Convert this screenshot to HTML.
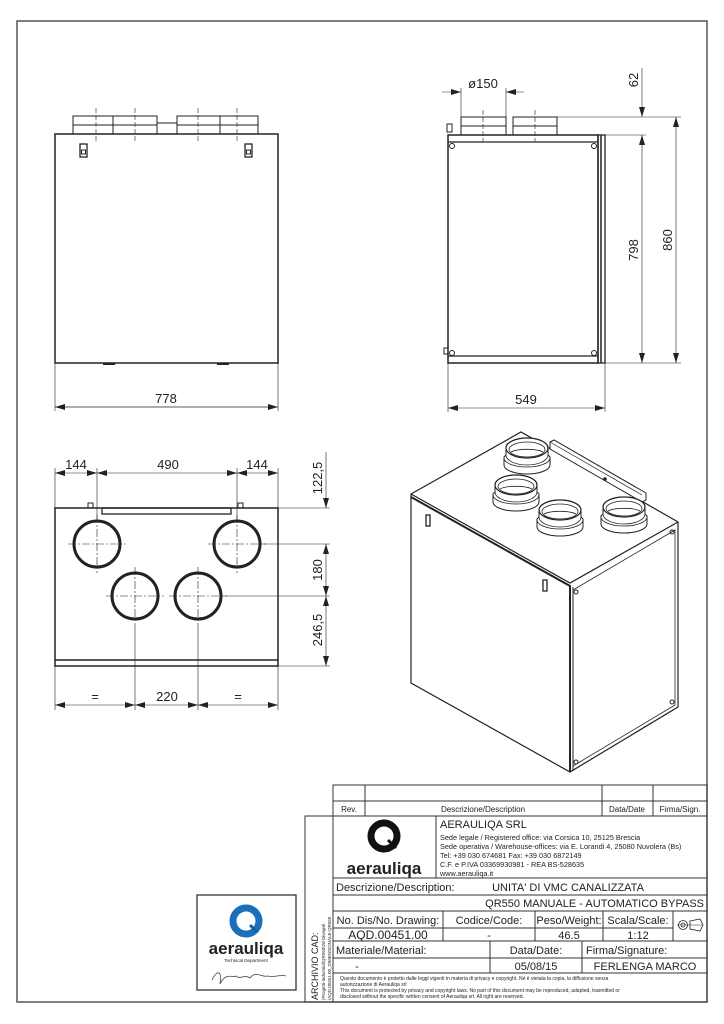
<!DOCTYPE html>
<html><head><meta charset="utf-8"><style>
html,body{margin:0;padding:0;background:#fff}
svg{display:block}
text{font-family:"Liberation Sans",Arial,sans-serif;fill:#222}
</style></head><body>
<svg width="724" height="1024" viewBox="0 0 724 1024" xmlns="http://www.w3.org/2000/svg">
<defs>
<marker id="a" viewBox="0 0 10 6" refX="10" refY="3" markerWidth="10" markerHeight="6" orient="auto-start-reverse" markerUnits="userSpaceOnUse"><path d="M0,0 L10,3 L0,6 z" fill="#222"/></marker>
<g id="sp">
<path d="M-23,9 L-23,17 A23,9 0 0 0 23,17 L23,9 L21,7 L21,0 A21,10 0 0 0 -21,0 L-21,7 Z" fill="#fff" stroke="#222" stroke-width="1"/>
<ellipse cx="0" cy="0" rx="21" ry="10" fill="#fff" stroke="#222" stroke-width="1.2"/>
<ellipse cx="0" cy="1.5" rx="18" ry="7.5" fill="none" stroke="#222" stroke-width="0.8"/>
<path d="M-21,7 A21,10 0 0 0 21,7 M-23,10 A23,9 0 0 0 23,10" fill="none" stroke="#222" stroke-width="0.8"/>
<path d="M-16,4 A18,5 0 0 1 16,4" fill="none" stroke="#222" stroke-width="0.8"/>
</g>
</defs>

<!-- page frame -->
<rect x="17" y="21" width="690" height="981" fill="none" stroke="#555" stroke-width="1.5"/>

<g stroke="#222" fill="none" stroke-width="1">
<!-- FRONT VIEW -->
<rect x="55" y="134" width="223" height="229" stroke-width="1.5"/>
<rect x="73" y="116" width="40" height="18"/><line x1="73" y1="125" x2="113" y2="125"/>
<rect x="113" y="116" width="44" height="18"/><line x1="113" y1="125" x2="157" y2="125"/>
<rect x="157" y="123" width="20" height="11"/>
<rect x="177" y="116" width="43" height="18"/><line x1="177" y1="125" x2="220" y2="125"/>
<rect x="220" y="116" width="38" height="18"/><line x1="220" y1="125" x2="258" y2="125"/>
<g stroke-dasharray="5,2" stroke-width="0.6"><line x1="96" y1="108" x2="96" y2="143"/><line x1="135" y1="108" x2="135" y2="143"/><line x1="198" y1="108" x2="198" y2="143"/><line x1="237" y1="108" x2="237" y2="143"/></g>
<rect x="80" y="144" width="7" height="13" stroke-width="1.3"/><rect x="81.5" y="150" width="4" height="4"/>
<rect x="245" y="144" width="7" height="13" stroke-width="1.3"/><rect x="246.5" y="150" width="4" height="4"/>
<line x1="103" y1="364" x2="115" y2="364" stroke-width="2"/><line x1="217" y1="364" x2="229" y2="364" stroke-width="2"/>
<line x1="55" y1="363" x2="55" y2="411" stroke-width="0.6"/><line x1="278" y1="363" x2="278" y2="411" stroke-width="0.6"/>
<line x1="55" y1="407" x2="278" y2="407" stroke-width="0.7" marker-start="url(#a)" marker-end="url(#a)"/>

<!-- SIDE VIEW -->
<rect x="448" y="135" width="150" height="228" stroke-width="1.5"/>
<line x1="448" y1="142" x2="598" y2="142" stroke-width="1.3"/>
<line x1="448" y1="356" x2="598" y2="356" stroke-width="1.3"/>
<rect x="598" y="135" width="7" height="228" stroke-width="1.3"/>
<line x1="601" y1="135" x2="601" y2="363" stroke-width="1.5"/>
<circle cx="452" cy="146" r="2.5"/><circle cx="594" cy="146" r="2.5"/><circle cx="452" cy="353" r="2.5"/><circle cx="594" cy="353" r="2.5"/>
<rect x="447" y="124" width="5" height="8"/>
<rect x="444" y="348" width="4" height="6"/>
<rect x="461" y="117" width="45" height="18"/><line x1="461" y1="126" x2="506" y2="126"/>
<rect x="513" y="117" width="44" height="18"/><line x1="513" y1="126" x2="557" y2="126"/>
<g stroke-dasharray="5,2" stroke-width="0.6"><line x1="483" y1="110" x2="483" y2="142"/><line x1="535" y1="110" x2="535" y2="142"/></g>
<g stroke-width="0.6">
<line x1="461" y1="88" x2="461" y2="117"/><line x1="506" y1="88" x2="506" y2="117"/>
<line x1="442" y1="92" x2="461" y2="92" marker-end="url(#a)"/><line x1="524" y1="92" x2="506" y2="92" marker-end="url(#a)"/>
<line x1="557" y1="117" x2="681" y2="117"/><line x1="605" y1="135" x2="646" y2="135"/><line x1="605" y1="363" x2="681" y2="363"/>
<line x1="642" y1="68" x2="642" y2="117" marker-end="url(#a)"/>
<line x1="642" y1="135" x2="642" y2="363" marker-start="url(#a)" marker-end="url(#a)"/>
<line x1="676" y1="117" x2="676" y2="363" marker-start="url(#a)" marker-end="url(#a)"/>
<line x1="448" y1="363" x2="448" y2="412"/><line x1="605" y1="363" x2="605" y2="412"/>
<line x1="448" y1="408" x2="605" y2="408" marker-start="url(#a)" marker-end="url(#a)"/>
</g>

<!-- PLAN VIEW -->
<rect x="55" y="508" width="223" height="158" stroke-width="1.5"/>
<line x1="55" y1="660" x2="278" y2="660" stroke-width="1.5"/>
<rect x="102" y="508" width="129" height="6" stroke-width="1.3"/>
<rect x="88" y="503" width="5" height="5"/><rect x="238" y="503" width="5" height="5"/>
<g stroke-width="3"><circle cx="97" cy="544" r="23"/><circle cx="237" cy="544" r="23"/><circle cx="135" cy="596" r="23"/><circle cx="198" cy="596" r="23"/></g>
<g stroke-dasharray="8,2,2,2" stroke-width="0.6">
<line x1="68" y1="544" x2="126" y2="544"/><line x1="97" y1="515" x2="97" y2="573"/>
<line x1="208" y1="544" x2="266" y2="544"/><line x1="237" y1="515" x2="237" y2="573"/>
<line x1="106" y1="596" x2="164" y2="596"/><line x1="135" y1="567" x2="135" y2="625"/>
<line x1="169" y1="596" x2="227" y2="596"/><line x1="198" y1="567" x2="198" y2="625"/>
</g>
<g stroke-width="0.6">
<line x1="55" y1="468" x2="55" y2="508"/><line x1="278" y1="468" x2="278" y2="508"/>
<line x1="97" y1="468" x2="97" y2="520"/><line x1="237" y1="468" x2="237" y2="520"/>
<line x1="55" y1="473" x2="97" y2="473" marker-start="url(#a)" marker-end="url(#a)"/>
<line x1="97" y1="473" x2="237" y2="473" marker-start="url(#a)" marker-end="url(#a)"/>
<line x1="237" y1="473" x2="278" y2="473" marker-start="url(#a)" marker-end="url(#a)"/>
<line x1="278" y1="508" x2="330" y2="508"/><line x1="260" y1="544" x2="330" y2="544"/><line x1="222" y1="596" x2="330" y2="596"/><line x1="278" y1="666" x2="330" y2="666"/>
<line x1="326" y1="452" x2="326" y2="508" marker-end="url(#a)"/>
<line x1="326" y1="544" x2="326" y2="596" marker-start="url(#a)" marker-end="url(#a)"/>
<line x1="326" y1="596" x2="326" y2="666" marker-start="url(#a)" marker-end="url(#a)"/>
<line x1="55" y1="666" x2="55" y2="710"/><line x1="278" y1="666" x2="278" y2="710"/>
<line x1="135" y1="625" x2="135" y2="710"/><line x1="198" y1="625" x2="198" y2="710"/>
<line x1="55" y1="705" x2="135" y2="705" marker-start="url(#a)" marker-end="url(#a)"/>
<line x1="135" y1="705" x2="198" y2="705" marker-start="url(#a)" marker-end="url(#a)"/>
<line x1="198" y1="705" x2="278" y2="705" marker-start="url(#a)" marker-end="url(#a)"/>
</g>

<!-- ISO VIEW -->
<path d="M411,494 L521,432 L678,522 L678,707 L570,772 L411,683 Z" fill="#fff" stroke-width="1.2"/>
<path d="M411,494 L570,583 L678,522" stroke-width="1.2"/>
<path d="M411,497 L570,586 L570,772" stroke-width="2"/>
<path d="M573,587 L573,770" stroke-width="1"/>
<path d="M573,590 L675,530 L675,705 L573,766" stroke-width="0.8"/>
<circle cx="576" cy="592" r="2"/><circle cx="672" cy="532" r="2"/><circle cx="672" cy="702" r="2"/><circle cx="576" cy="762" r="2"/>
<rect x="426" y="515" width="4" height="11" stroke-width="1.3"/>
<rect x="543" y="580" width="4" height="11" stroke-width="1.3"/>
<path d="M550,442 L554,440 L646,493 L646,500 L642,502 L550,449 Z" fill="#fff" stroke-width="1"/>
<line x1="550" y1="442" x2="642" y2="495" stroke-width="0.7"/>
<circle cx="605" cy="479" r="1.3" fill="#222"/>
<use href="#sp" x="527" y="448"/>
<use href="#sp" x="516" y="485"/>
<use href="#sp" x="560" y="510"/>
<use href="#sp" x="624" y="507"/>

<!-- TITLE BLOCK -->
<g stroke="#333" stroke-width="1">
<rect x="333" y="785" width="374" height="217"/>
<line x1="333" y1="801" x2="707" y2="801"/>
<line x1="333" y1="816" x2="707" y2="816"/>
<line x1="365" y1="785" x2="365" y2="816"/>
<line x1="602" y1="785" x2="602" y2="816"/>
<line x1="653" y1="785" x2="653" y2="816"/>
<line x1="436" y1="816" x2="436" y2="878"/>
<line x1="333" y1="878" x2="707" y2="878"/>
<line x1="333" y1="895" x2="707" y2="895"/>
<line x1="333" y1="911" x2="707" y2="911"/>
<line x1="333" y1="941" x2="707" y2="941"/>
<line x1="333" y1="958" x2="707" y2="958"/>
<line x1="333" y1="973" x2="707" y2="973"/>
<line x1="443" y1="911" x2="443" y2="941"/>
<line x1="535" y1="911" x2="535" y2="941"/>
<line x1="603" y1="911" x2="603" y2="941"/>
<line x1="673" y1="911" x2="673" y2="941"/>
<line x1="333" y1="928" x2="673" y2="928"/>
<line x1="490" y1="941" x2="490" y2="973"/>
<line x1="582" y1="941" x2="582" y2="973"/>
<rect x="305" y="816" width="28" height="186"/>
<rect x="197" y="895" width="99" height="95" stroke-width="1.3"/>
</g>
<!-- projection symbol -->
<circle cx="683" cy="925" r="4.5" stroke-width="0.8"/><circle cx="683" cy="925" r="2" stroke-width="0.8"/>
<line x1="677" y1="925" x2="702" y2="925" stroke-width="0.5"/>
<path d="M690,921 L700,919 L703,925 L700,931 L690,929 Z" stroke-width="0.8"/>
</g>

<!-- dimension text -->
<text x="166" y="403" font-size="13" text-anchor="middle">778</text>
<text x="526" y="404" font-size="13" text-anchor="middle">549</text>
<text x="483" y="88" font-size="13" text-anchor="middle">ø150</text>
<text font-size="13" text-anchor="middle" transform="translate(638,80) rotate(-90)">62</text>
<text font-size="13" text-anchor="middle" transform="translate(638,250) rotate(-90)">798</text>
<text font-size="13" text-anchor="middle" transform="translate(672,240) rotate(-90)">860</text>
<text x="76" y="469" font-size="13" text-anchor="middle">144</text>
<text x="168" y="469" font-size="13" text-anchor="middle">490</text>
<text x="257" y="469" font-size="13" text-anchor="middle">144</text>
<text font-size="13" text-anchor="middle" transform="translate(322,478) rotate(-90)">122,5</text>
<text font-size="13" text-anchor="middle" transform="translate(322,570) rotate(-90)">180</text>
<text font-size="13" text-anchor="middle" transform="translate(322,630) rotate(-90)">246,5</text>
<text x="95" y="701" font-size="13" text-anchor="middle">=</text>
<text x="167" y="701" font-size="13" text-anchor="middle">220</text>
<text x="238" y="701" font-size="13" text-anchor="middle">=</text>

<!-- title block text -->
<text x="349" y="812" font-size="8" text-anchor="middle">Rev.</text>
<text x="483" y="812" font-size="8" text-anchor="middle">Descrizione/Description</text>
<text x="627" y="812" font-size="8" text-anchor="middle">Data/Date</text>
<text x="680" y="812" font-size="8" text-anchor="middle">Firma/Sign.</text>
<circle cx="384" cy="836" r="13" fill="none" stroke="#111" stroke-width="7"/>
<line x1="388" y1="840" x2="396" y2="848" stroke="#111" stroke-width="3"/>
<text x="384" y="874" font-size="17" font-weight="bold" text-anchor="middle" fill="#111">aerauliqa</text>
<text x="440" y="828" font-size="11">AERAULIQA SRL</text>
<text x="440" y="840" font-size="7.3">Sede legale / Registered office: via Corsica 10, 25125 Brescia</text>
<text x="440" y="849" font-size="7.3">Sede operativa / Warehouse-offices: via E. Lorandi 4, 25080 Nuvolera (Bs)</text>
<text x="440" y="858" font-size="7.3">Tel: +39 030 674681 Fax: +39 030 6872149</text>
<text x="440" y="867" font-size="7.3">C.F. e P.IVA 03369930981 - REA BS-528635</text>
<text x="440" y="876" font-size="7.3">www.aerauliqa.it</text>
<text x="336" y="891" font-size="11">Descrizione/Description:</text>
<text x="568" y="891" font-size="11" text-anchor="middle">UNITA' DI VMC CANALIZZATA</text>
<text x="704" y="907" font-size="11" text-anchor="end">QR550 MANUALE - AUTOMATICO BYPASS</text>
<text x="388" y="924" font-size="11" text-anchor="middle">No. Dis/No. Drawing:</text>
<text x="489" y="924" font-size="11" text-anchor="middle">Codice/Code:</text>
<text x="569" y="924" font-size="11" text-anchor="middle">Peso/Weight:</text>
<text x="638" y="924" font-size="11" text-anchor="middle">Scala/Scale:</text>
<text x="388" y="939" font-size="12" text-anchor="middle">AQD.00451.00</text>
<text x="489" y="939" font-size="11" text-anchor="middle">-</text>
<text x="569" y="939" font-size="11" text-anchor="middle">46.5</text>
<text x="638" y="939" font-size="11" text-anchor="middle">1:12</text>
<text x="336" y="954" font-size="11">Materiale/Material:</text>
<text x="536" y="954" font-size="11" text-anchor="middle">Data/Date:</text>
<text x="586" y="954" font-size="11">Firma/Signature:</text>
<text x="355" y="970" font-size="11">-</text>
<text x="536" y="970" font-size="11" text-anchor="middle">05/08/15</text>
<text x="645" y="970" font-size="11" text-anchor="middle">FERLENGA MARCO</text>
<text x="340" y="980" font-size="5">Questo documento è protetto dalle leggi vigenti in materia di privacy e copyright. Né è vietata la copia, la diffusione senza</text>
<text x="340" y="986" font-size="5">autorizzazione di Aerauliqa srl</text>
<text x="340" y="992" font-size="5">This document is protected by privacy and copyright laws. No part of this document may be reproduced, adapted, trasmitted or</text>
<text x="340" y="998" font-size="5">disclosed without the specific written consent of Aerauliqa srl. All right are reserved.</text>
<text font-size="9" transform="translate(318,1000) rotate(-90)">ARCHIVIO CAD:</text>
<text font-size="4.5" transform="translate(325,1000) rotate(-90)">(Progetti-Industrial\QR550\2d-Disegni\</text>
<text font-size="4.5" transform="translate(331,1000) rotate(-90)">\AQD.00451.00_DIMENSIONALE-QR550</text>

<!-- left logo -->
<circle cx="246" cy="921" r="13" fill="none" stroke="#1a6fb8" stroke-width="7"/>
<line x1="250" y1="925" x2="257" y2="932" stroke="#1a5fa0" stroke-width="3"/>
<text x="246" y="954" font-size="17" font-weight="bold" text-anchor="middle" fill="#111">aerauliqa</text>
<text x="246" y="962" font-size="4.5" text-anchor="middle">Technical Department</text>
<path d="M212,980 C218,968 222,972 220,984 C226,972 232,978 236,976 C240,980 244,974 250,978 C256,970 262,978 268,976 C274,978 280,974 286,976" fill="none" stroke="#444" stroke-width="0.8"/>
</svg>
</body></html>
